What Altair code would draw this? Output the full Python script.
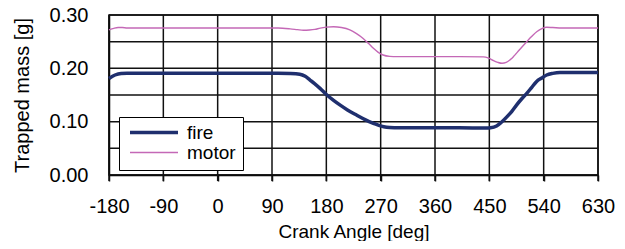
import altair as alt
import pandas as pd

# Crank angle [deg] and trapped mass [g]
fire_angle = [-180, -170, -160, -150, -120, -60, 0, 60, 100, 120, 136, 145, 153, 160, 170, 180,
              192, 203, 215, 230, 245, 258, 267, 275, 285, 300, 350, 400, 445, 452, 462,
              470, 479, 487, 495, 503, 512, 520, 528, 537, 545, 555, 567, 590, 630]
fire_mass = [0.181, 0.1875, 0.1905, 0.191, 0.191, 0.191, 0.191, 0.191, 0.191, 0.1905, 0.189, 0.185,
             0.178, 0.172, 0.162, 0.151, 0.140, 0.131, 0.122, 0.1125, 0.1035, 0.097, 0.093, 0.0905,
             0.089, 0.0885, 0.0885, 0.0885, 0.088, 0.0885, 0.092, 0.099, 0.109, 0.119, 0.131,
             0.142, 0.153, 0.164, 0.175, 0.182, 0.1875, 0.1905, 0.192, 0.192, 0.192]

motor_angle = [-180, -172, -165, -158, -150, -120, -60, 0, 60, 100, 120, 132, 142, 152, 161,
               170, 180, 192, 205, 219, 230, 241, 250, 258, 266, 274, 285, 297, 350, 400,
               440, 449, 457, 464, 471, 478, 484, 490, 500, 512, 520, 529, 537, 545, 555,
               570, 600, 630]
motor_mass = [0.272, 0.275, 0.2765, 0.2765, 0.2755, 0.2755, 0.2755, 0.2755, 0.2755, 0.2755, 0.274,
              0.2725, 0.2713, 0.2718, 0.273, 0.2755, 0.2772, 0.278, 0.2765, 0.272, 0.265, 0.256,
              0.2465, 0.2375, 0.2300, 0.225, 0.2225, 0.222, 0.222, 0.222, 0.2215, 0.219, 0.2145,
              0.2112, 0.2094, 0.211, 0.2155, 0.222, 0.235, 0.250, 0.2595, 0.269, 0.2745, 0.277,
              0.2765, 0.2756, 0.2756, 0.2756]

series_names = ["fire", "motor"]
series_colors = ["#1f2f6e", "#c468b6"]
series_widths = [3.5, 1.4]

x_ticks = [-180, -90, 0, 90, 180, 270, 360, 450, 540, 630]
y_grid = [0.0, 0.05, 0.10, 0.15, 0.20, 0.25, 0.30]
x_domain = [-180, 630]
y_domain = [0.0, 0.30]
tick_len = 0.01125  # tick marks below the axis, in data units

df = pd.concat([
    pd.DataFrame({"angle": fire_angle, "mass": fire_mass, "series": "fire"}),
    pd.DataFrame({"angle": motor_angle, "mass": motor_mass, "series": "motor"}),
])

# grid / border segments built from the tick arrays
grid_rows = []
for a in x_ticks:
    for m in y_domain:
        grid_rows.append({"angle": a, "mass": m, "key": f"v{a}"})
for m in y_grid:
    for a in x_domain:
        grid_rows.append({"angle": a, "mass": m, "key": f"h{m}"})
for a in x_ticks:
    for m in [0.0, -tick_len]:
        grid_rows.append({"angle": a, "mass": m, "key": f"t{a}"})
grid_df = pd.DataFrame(grid_rows)

FONT = "Liberation Sans"

x_scale = alt.Scale(domain=x_domain, nice=False, zero=False)
y_scale = alt.Scale(domain=y_domain, nice=False)

legend_opts = dict(title=None, orient="none", legendX=10, legendY=102,
                   symbolType="stroke", symbolSize=2304,
                   clipHeight=17, symbolOffset=2, labelOffset=7,
                   padding=7, fillColor="white", strokeColor="black",
                   labelFontSize=19, labelFont=FONT, labelColor="black", rowPadding=0)

grid = alt.Chart(grid_df).mark_line(color="#111111", strokeWidth=1.5, opacity=1).encode(
    x=alt.X("angle:Q", scale=x_scale,
            axis=alt.Axis(values=x_ticks, title="Crank Angle [deg]", grid=False,
                          labelExpr="'' + datum.value", labelOverlap=False, labelFlush=False,
                          tickSize=6, tickWidth=1.5, tickColor="#111111",
                          labelPadding=15, titlePadding=6)),
    y=alt.Y("mass:Q", scale=y_scale,
            axis=alt.Axis(values=y_grid, title="Trapped mass [g]", format=".2f", grid=False,
                          labelExpr="round(datum.value*100) % 10 == 0 ? datum.label : ''",
                          labelOverlap=False, labelFlush=False,
                          tickSize=0, labelPadding=21, titlePadding=17)),
    detail="key:N",
)

lines = alt.Chart(df).mark_line(interpolate="monotone").encode(
    x=alt.X("angle:Q", scale=x_scale),
    y=alt.Y("mass:Q", scale=y_scale),
    color=alt.Color("series:N",
                    scale=alt.Scale(domain=series_names, range=series_colors),
                    legend=alt.Legend(**legend_opts)),
    strokeWidth=alt.StrokeWidth("series:N",
                                scale=alt.Scale(domain=series_names, range=series_widths),
                                legend=alt.Legend(**legend_opts)),
)

chart = alt.layer(grid, lines).properties(
    width=489, height=160,
    autosize=alt.AutoSizeParams(type="none"),
    padding={"left": 101, "top": 7, "right": 19, "bottom": 66},
).configure_axis(
    labelFont=FONT, titleFont=FONT, labelFontSize=20, titleFontSize=19,
    titleFontWeight="normal", labelColor="black", titleColor="black",
    domainColor="black", domainWidth=1.5,
).configure_axisY(
    titleFontSize=20,
).configure_view(
    stroke="#111111", strokeWidth=1.5,
)

chart.save("out.html", embed_options={"renderer": "svg", "actions": False})
